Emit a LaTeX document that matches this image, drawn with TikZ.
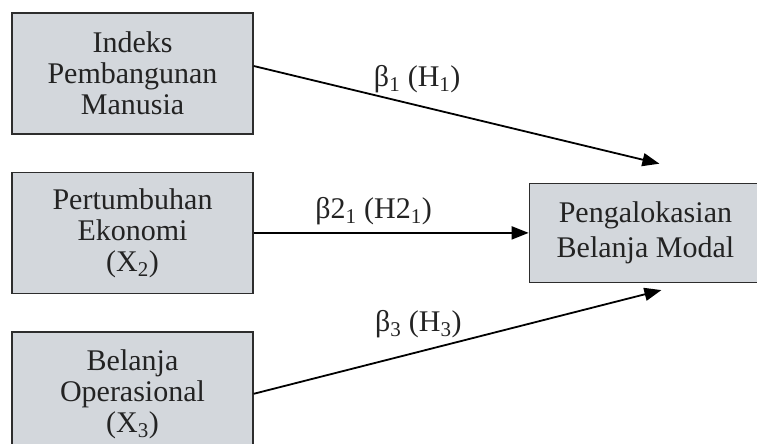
\documentclass[tikz,border=0pt]{standalone}
\usepackage{fontspec}
\setmainfont{Liberation Serif}
\usepackage{xcolor}
\definecolor{abuabu}{RGB}{211,215,220}
\definecolor{garis}{RGB}{45,45,45}
\definecolor{tulisan}{RGB}{35,35,35}
\usepackage{tikz}
\usetikzlibrary{arrows.meta,positioning,calc}

\begin{document}
\begin{tikzpicture}[x=1pt,y=1pt,
    kotak/.style={draw=garis,fill=abuabu,line width=1.4pt,
      minimum width=241pt,minimum height=#1,inner sep=2pt,text=tulisan,
    font=\fontsize{30}{31}\selectfont,align=center},
    kotak/.default=121pt,
    panah/.style={-{Triangle[length=17pt,width=13pt]},line width=1.8pt,color=black},
    ket/.style={anchor=south,inner sep=2pt,text=tulisan,font=\fontsize{30}{31}\selectfont}
    ]
    \useasboundingbox (0,0) rectangle (757,-444);
    \clip (0,0) rectangle (757,-444);

    \node[kotak]  at (132.5,-73.5)    (ipm) {Indeks\\Pembangunan\\Manusia};
    \node[kotak,  below=37pt of ipm]  (pe)  {Pertumbuhan\\Ekonomi\\(X\textsubscript{2})};
    \node[kotak=124pt, below=37pt of pe] (bo) {Belanja\\Operasional\\(X\textsubscript{3})};
    \node[kotak=99pt, minimum width=232pt, font=\fontsize{30}{35}\selectfont,
    right=275pt of pe] (pbm) {Pengalokasian\\Belanja Modal};

    % ujung panah bebas
    \coordinate (u1) at ($(pbm.north)+(14,19)$);
    \coordinate (u3) at ($(pbm.south)+(16,-7)$);

    \draw[panah] ([yshift=7.5pt]ipm.east) -- node[ket,pos=.403,yshift=10pt]{β\textsubscript{1} (H\textsubscript{1})} (u1);
    \draw[panah] (pe) -- node[ket,pos=.436,yshift=5pt]{β2\textsubscript{1} (H2\textsubscript{1})} (pbm);
    \draw[panah] (bo.east) -- node[ket,pos=.404,yshift=11pt]{β\textsubscript{3} (H\textsubscript{3})} (u3);
  \end{tikzpicture}
\end{document}
